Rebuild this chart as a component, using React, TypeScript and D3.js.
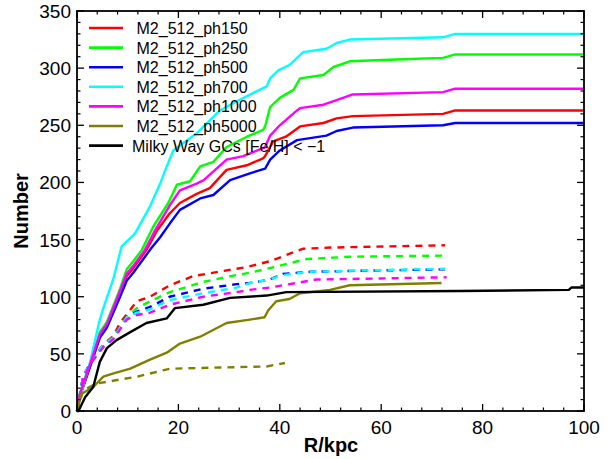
import React from "react";
import * as d3 from "d3";

type Pt = [number, number];

// R/kpc, cumulative number
const ph150Solid: Pt[] = [[0,0],[0.6,14],[2.6,40],[4.5,66],[5.9,75],[8.5,103],[9.8,118],[11.1,125],[13.7,141],[15.8,158],[18.3,173],[20.3,182],[23.6,190],[26.2,195],[29.5,211],[33.5,215],[36.7,221],[37.1,223],[38.7,236],[41.2,240],[44,249],[48.6,252],[51.2,256],[54.4,258],[72.2,260],[74.6,263],[100,263]];
const ph250Solid: Pt[] = [[0,0],[0.6,16],[2.6,42],[4.5,69],[5.9,78],[8.5,107],[9.8,124],[11.1,131],[12.8,141],[15,161],[18,182],[19.7,198],[22.3,201],[24.3,214],[26.9,218],[29.5,231],[33.5,240],[36.7,246],[37.1,249],[38.1,266],[40,274],[42.7,281],[44,291],[48.6,294],[50.6,301],[53.8,306],[65.7,308],[72.2,309],[74.6,312],[100,312]];
const ph500Solid: Pt[] = [[0,0],[0.6,13],[2.6,39],[4.5,64],[5.9,73],[8.5,100],[9.8,114],[11.1,121],[14.4,141],[16.4,152],[18.3,164],[20.3,176],[24.3,186],[26.9,189],[30.2,202],[34.1,208],[37.1,212],[38.1,220],[40,228],[43.4,237],[49.2,241],[51.2,245],[54.4,248],[72.2,250],[74.6,252],[100,252]];
const ph700Solid: Pt[] = [[0,0],[0.6,12],[2.6,43],[4.5,80],[5.2,90],[7.2,116],[8.8,144],[11.4,155],[14.4,179],[16.4,199],[17.7,214],[19,228],[23.6,243],[28.2,263],[31.5,271],[35.1,279],[37.4,284],[38.1,291],[39.7,298],[42,303],[44.6,314],[49.2,317],[51.2,322],[53.8,325],[72.2,327],[74.6,330],[100,330]];
const ph1000Solid: Pt[] = [[0,0],[0.6,15],[2.6,41],[4.5,67],[5.9,76],[8.5,105],[9.8,120],[11.1,127],[13.4,141],[15.4,158],[18.3,180],[20.3,193],[23.6,199],[25,202],[29.5,220],[32.8,223],[36.7,230],[37.1,231],[38.1,241],[40,250],[43.4,263],[44,265],[48.6,268],[51.2,272],[54.4,277],[72.2,279],[74.6,282],[100,282]];
const ph5000Solid: Pt[] = [[0,0],[0.9,15],[3.2,21],[5.2,30],[7.2,33],[10.5,37],[14.4,45],[17.7,51],[20.3,59],[24.3,65],[29.5,77],[34.1,80],[37,82],[37.7,88],[39.3,96],[41.9,98],[44,103],[49.9,106],[53.8,110],[71.9,112]];
const milkyWay: Pt[] = [[0,0],[0.3,0],[1.6,12],[3.2,21],[4.5,43],[5.9,55],[7.8,62],[10.5,69],[13.7,77],[17.7,81],[19.3,90],[24.9,93],[30.2,99],[37.4,101],[41.3,104],[75.5,105],[97,106],[97.5,108],[100,108]];

const ph150Dashed: Pt[] = [[0,0],[1.2,30],[2.6,42],[5.2,58],[7.2,66],[8.5,77],[11.8,96],[14.4,100],[18.3,110],[22.9,118],[28.2,122],[33.5,126],[38,131],[44.6,142],[50,143],[72.6,145]];
const ph250Dashed: Pt[] = [[0,0],[1.2,30],[2.6,42],[5.2,58],[7.2,65],[9.8,82],[11.8,90],[14.4,96],[18.3,104],[24.9,113],[31.5,119],[34.1,121],[38,125],[45.3,133],[53.8,135],[72.9,136]];
const ph500Dashed: Pt[] = [[0,0],[1.2,30],[2.6,42],[5.2,58],[7.2,64],[9.8,82],[11.8,87],[14.4,91],[18.3,100],[24.9,107],[31.5,111],[34.1,112],[38,115],[40.6,120],[46.6,122],[72.6,124]];
const ph700Dashed: Pt[] = [[0,0],[1.2,30],[2.6,42],[5.2,58],[7.2,64],[9.8,82],[11.8,86],[14.4,89],[18.3,97],[24.9,103],[31.5,108],[34.1,112],[38,115],[40.6,119],[46.6,122],[72.6,124.5]];
const ph1000Dashed: Pt[] = [[0,0],[1.2,28],[2.6,41],[5.2,56],[7.2,63],[9.8,80],[11.8,84],[14.4,86],[18.3,93],[24.9,100],[31.5,104],[34.1,106],[38,108],[47.2,115],[72.9,117]];
const ph5000Dashed: Pt[] = [[0,0],[1.2,18],[3.8,24],[11.8,30],[18.3,37],[37.4,39],[41,42]];

const legendLabels = ["M2_512_ph150", "M2_512_ph250", "M2_512_ph500", "M2_512_ph700", "M2_512_ph1000", "M2_512_ph5000", "Milky Way GCs [Fe/H] < \u22121"];
const colors = ["#ff0000", "#00ff00", "#0000ff", "#00ffff", "#ff00ff", "#808000", "#000000"];
const solidSeries = [ph150Solid, ph250Solid, ph500Solid, ph700Solid, ph1000Solid, ph5000Solid, milkyWay];
const dashedSeries = [ph150Dashed, ph250Dashed, ph500Dashed, ph700Dashed, ph1000Dashed, ph5000Dashed, null];

const xTicks = [0, 20, 40, 60, 80, 100];
const yTicks = [0, 50, 100, 150, 200, 250, 300, 350];

const W = 614, H = 459;
const L = 77, R = 584, T = 11, B = 411;
const FONT = "'Liberation Sans', Arial, Helvetica, sans-serif";

export default function App() {
  const x = d3.scaleLinear().domain([0, 100]).range([L, R]);
  const y = d3.scaleLinear().domain([0, 350]).range([B, T]);
  const line = d3.line<Pt>().x(d => x(d[0])).y(d => y(d[1]));
  const xMinor = d3.range(0, 100.01, 4).filter(v => !xTicks.includes(v));
  const yMinor = d3.range(0, 350.01, 10).filter(v => !yTicks.includes(v));

  return (
    <svg width={W} height={H} style={{ position: "absolute", left: 0, top: 0, background: "#fff" }} fontFamily={FONT}>
      <rect x={0} y={0} width={W} height={H} fill="#fff" />
      {/* data */}
      {solidSeries.map((s, i) => (
        <g key={i}>
          <path d={line(s) || ""} fill="none" stroke={colors[i]} strokeWidth={2.4} strokeLinejoin="round" />
          {dashedSeries[i] && (
            <path d={line(dashedSeries[i] as Pt[]) || ""} fill="none" stroke={colors[i]} strokeWidth={2.4} strokeDasharray="7,6" />
          )}
        </g>
      ))}
      {/* frame */}
      <rect x={L} y={T} width={R - L} height={B - T} fill="none" stroke="#000" strokeWidth={1.8} />
      {/* ticks */}
      {xTicks.map(v => (
        <g key={"xt" + v}>
          <line x1={x(v)} x2={x(v)} y1={B} y2={B - 7} stroke="#000" strokeWidth={1.3} />
          <line x1={x(v)} x2={x(v)} y1={T} y2={T + 7} stroke="#000" strokeWidth={1.3} />
          <text x={x(v)} y={B + 23} textAnchor="middle" fontSize={19}>{v}</text>
        </g>
      ))}
      {xMinor.map(v => (
        <g key={"xm" + v}>
          <line x1={x(v)} x2={x(v)} y1={B} y2={B - 3.5} stroke="#000" strokeWidth={1.2} />
          <line x1={x(v)} x2={x(v)} y1={T} y2={T + 3.5} stroke="#000" strokeWidth={1.2} />
        </g>
      ))}
      {yTicks.map(v => (
        <g key={"yt" + v}>
          <line x1={L} x2={L + 7} y1={y(v)} y2={y(v)} stroke="#000" strokeWidth={1.3} />
          <line x1={R} x2={R - 7} y1={y(v)} y2={y(v)} stroke="#000" strokeWidth={1.3} />
          <text x={71} y={y(v) + 7} textAnchor="end" fontSize={19}>{v}</text>
        </g>
      ))}
      {yMinor.map(v => (
        <g key={"ym" + v}>
          <line x1={L} x2={L + 3.5} y1={y(v)} y2={y(v)} stroke="#000" strokeWidth={1.2} />
          <line x1={R} x2={R - 3.5} y1={y(v)} y2={y(v)} stroke="#000" strokeWidth={1.2} />
        </g>
      ))}
      {/* axis titles */}
      <text x={331} y={452} textAnchor="middle" fontSize={20} fontWeight="bold">R/kpc</text>
      <text transform="translate(28,211) rotate(-90)" textAnchor="middle" fontSize={20} fontWeight="bold">Number</text>
      {/* legend */}
      {legendLabels.map((lab, i) => {
        const ly = 28 + i * 19.6;
        return (
          <g key={"lg" + i}>
            <line x1={89} x2={123} y1={ly} y2={ly} stroke={colors[i]} strokeWidth={2.6} />
            <text x={i < 6 ? 136.5 : 132} y={ly + 6} fontSize={16}>{lab}</text>
          </g>
        );
      })}
    </svg>
  );
}
